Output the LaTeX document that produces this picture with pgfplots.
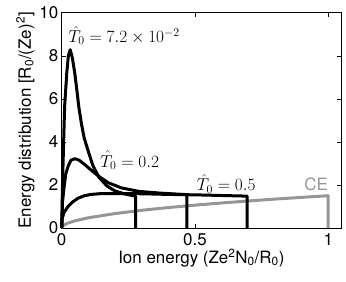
\documentclass[border=0pt]{standalone}
\usepackage{fontspec}
\setmainfont{TeX Gyre Heros}
\usepackage{pgfplots}
\pgfplotsset{compat=1.18}
\definecolor{cegray}{RGB}{150,150,150}
\begin{document}
\begin{tikzpicture}[font=\fontsize{17}{20}\selectfont]
\useasboundingbox (-61.7bp,-54bp) rectangle (284.3bp,228bp);
\begin{axis}[
  scale only axis, width=279.3bp, height=215.3bp,
  xmin=0, xmax=1.048, ymin=0, ymax=10,
  xtick={0,0.5,1}, xticklabels={0,0.5,1},
  ytick={0,2,4,6,8,10},
  tick align=inside, major tick length=4bp,
  tick style={line width=0.5pt, black},
  axis line style={line width=0.6pt},
  /pgf/number format/assume math mode=true,
  xticklabel style={yshift=-2bp},
  xlabel={Ion energy (Ze\textsuperscript{2}N\textsubscript{0}/R\textsubscript{0})},
  ylabel={Energy distribution [R\textsubscript{0}/(Ze)\textsuperscript{2}]},
  xlabel style={yshift=4bp},
  ylabel style={yshift=-2bp},
  clip=false,
  every axis plot/.append style={no markers, line width=3bp, line join=round},
]
% CE
\addplot[cegray] coordinates {
(0,0) (0.005,0.106) (0.01,0.15) (0.02,0.212) (0.05,0.335) (0.1,0.474) (0.2,0.671)
(0.3,0.822) (0.4,0.949) (0.5,1.061) (0.6,1.162) (0.7,1.255) (0.8,1.342)
(0.9,1.423) (1.0,1.5) (1.0,0)};
% T0 = 0.5
\addplot[black] coordinates {
(0,0) (0.002,0.45) (0.01,0.75) (0.024,1.0) (0.04,1.2) (0.061,1.38) (0.085,1.5)
(0.111,1.56) (0.15,1.6) (0.2,1.6) (0.3,1.59) (0.4,1.56) (0.5,1.54) (0.6,1.51)
(0.696,1.48) (0.696,0)};
% T0 = 0.2
\addplot[black] coordinates {
(0,0) (0.003,1.2) (0.008,1.8) (0.015,2.5) (0.025,2.9) (0.035,3.15) (0.05,3.22)
(0.065,3.15) (0.086,2.95) (0.105,2.75) (0.124,2.55) (0.145,2.35) (0.175,2.1)
(0.225,1.86) (0.29,1.7) (0.37,1.62) (0.47,1.55) (0.47,0)};
% T0 = 7.2e-2
\addplot[black] coordinates {
(0,0) (0.003,2.0) (0.0075,4.1) (0.011,5.64) (0.019,7.2) (0.025,8.0) (0.032,8.28)
(0.04,7.9) (0.049,7.2) (0.056,6.5) (0.064,5.64) (0.074,4.85) (0.084,4.2)
(0.1,3.55) (0.117,2.9) (0.14,2.35) (0.17,1.95) (0.2,1.72) (0.24,1.57)
(0.277,1.48) (0.277,0)};
\node[anchor=base west, inner sep=0pt] at (axis cs:0.025,8.62) {$\hat{T}_0 = 7.2\times10^{-2}$};
\node[anchor=base west, inner sep=0pt] at (axis cs:0.144,2.82) {$\hat{T}_0 = 0.2$};
\node[anchor=base west, inner sep=0pt] at (axis cs:0.506,1.72) {$\hat{T}_0 = 0.5$};
\node[anchor=base east, inner sep=0pt, text=cegray] at (axis cs:1.0,1.72) {CE};
\end{axis}
\end{tikzpicture}
\end{document}
